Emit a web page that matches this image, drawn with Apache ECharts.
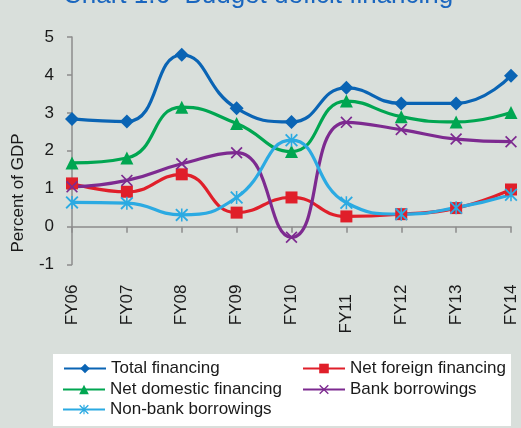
<!DOCTYPE html>
<html>
<head>
<meta charset="utf-8">
<script src="https://cdn.jsdelivr.net/npm/echarts@6/dist/echarts.min.js"></script>
<style>
html,body{margin:0;padding:0;background:#D9DFDB;}
#chart{width:521px;height:428px;}
</style>
</head>
<body>
<div id="chart"></div>
<script>
var categories = ['FY06','FY07','FY08','FY09','FY10','FY11','FY12','FY13','FY14'];
var totalFinancing = [2.84, 2.77, 4.53, 3.12, 2.76, 3.66, 3.25, 3.25, 3.98];
var netForeignFinancing = [1.14, 0.92, 1.38, 0.37, 0.77, 0.27, 0.33, 0.49, 0.98];
var netDomesticFinancing = [1.68, 1.81, 3.15, 2.72, 1.98, 3.31, 2.90, 2.76, 3.01];
var bankBorrowings = [1.05, 1.22, 1.66, 1.95, -0.28, 2.75, 2.56, 2.31, 2.24];
var nonBankBorrowings = [0.64, 0.62, 0.31, 0.77, 2.28, 0.63, 0.33, 0.50, 0.84];
var yTicks = [-1, 0, 1, 2, 3, 4, 5];

var font = 'Liberation Sans, Arial, sans-serif';
var xPath = 'path://M0,1 L1,0 L5,4 L9,0 L10,1 L6,5 L10,9 L9,10 L5,6 L1,10 L0,9 L4,5 Z';
var starPath = 'path://M0,1 L1,0 L5,4 L9,0 L10,1 L6,5 L10,9 L9,10 L5,6 L1,10 L0,9 L4,5 Z M4.4,0 L5.6,0 L5.6,10 L4.4,10 Z';

function mkSeries(name, data, color, symbol, size) {
  return {
    name: name, type: 'line', data: data, smooth: 0.5,
    xAxisIndex: 0, yAxisIndex: 0,
    symbol: symbol, symbolSize: size, showAllSymbol: true,
    lineStyle: {color: color, width: 3.2},
    itemStyle: {color: color, borderWidth: 0},
    emphasis: {disabled: true}
  };
}

function mkLegend(name, left, top) {
  return {
    data: [name], left: left, top: top, padding: 0,
    itemWidth: 42, itemHeight: 12, itemGap: 0,
    textStyle: {fontFamily: font, fontSize: 17, color: '#1a1a1a'},
    selectedMode: false
  };
}

var chart = echarts.init(document.getElementById('chart'), null, {renderer: 'canvas'});
chart.setOption({
  backgroundColor: '#D9DFDB',
  animation: false,
  grid: {left: 72, right: 10, top: 37, bottom: 163.4, containLabel: false},
  graphic: [
    {type: 'text', left: 63, top: -17, style: {text: 'Chart 1.6  Budget deficit financing', font: '26px ' + font, fill: '#1A66BF'}},
    {type: 'text', x: 10, y: 193, rotation: Math.PI / 2, style: {text: 'Percent of GDP', font: '17px ' + font, fill: '#1a1a1a', align: 'center', verticalAlign: 'top'}},
    {type: 'rect', shape: {x: 53, y: 354, width: 458, height: 72}, style: {fill: '#ffffff'}, z: -1}
  ],
  legend: [
    mkLegend('Total financing', 63, 360),
    mkLegend('Net foreign financing', 302, 360),
    mkLegend('Net domestic financing', 62, 381),
    mkLegend('Bank borrowings', 302, 381),
    mkLegend('Non-bank borrowings', 62, 401)
  ],
  xAxis: [
    {
      type: 'category', data: categories, boundaryGap: false,
      axisLine: {onZero: true, lineStyle: {color: '#8C8C8C', width: 1.5}},
      axisTick: {show: true, length: 6, alignWithLabel: true, lineStyle: {color: '#8C8C8C', width: 1.5}},
      axisLabel: {show: false}, splitLine: {show: false}
    },
    {
      type: 'category', data: categories, boundaryGap: false, position: 'bottom',
      axisLine: {show: false, onZero: false}, axisTick: {show: false}, splitLine: {show: false},
      axisLabel: {
        rotate: 90, margin: 20, fontFamily: font, fontSize: 17, color: '#1a1a1a', interval: 0,
        formatter: function (v) { return v === 'FY11' ? v + '  ' : v; }
      }
    }
  ],
  yAxis: {
    type: 'value', min: yTicks[0], max: yTicks[yTicks.length - 1], interval: 1,
    axisLine: {show: true, lineStyle: {color: '#8C8C8C', width: 1.5}},
    axisTick: {show: true, inside: false, length: 5, lineStyle: {color: '#8C8C8C', width: 1.5}},
    axisLabel: {margin: 18, fontFamily: font, fontSize: 17, color: '#1a1a1a'},
    splitLine: {show: false}
  },
  series: [
    mkSeries('Total financing', totalFinancing, '#0A64B4', 'diamond', 14),
    mkSeries('Net foreign financing', netForeignFinancing, '#E01F2A', 'rect', 12),
    mkSeries('Net domestic financing', netDomesticFinancing, '#00A651', 'triangle', 13),
    mkSeries('Bank borrowings', bankBorrowings, '#7D2A90', xPath, 12),
    mkSeries('Non-bank borrowings', nonBankBorrowings, '#2BAAE2', starPath, 13)
  ]
});
</script>
</body>
</html>
